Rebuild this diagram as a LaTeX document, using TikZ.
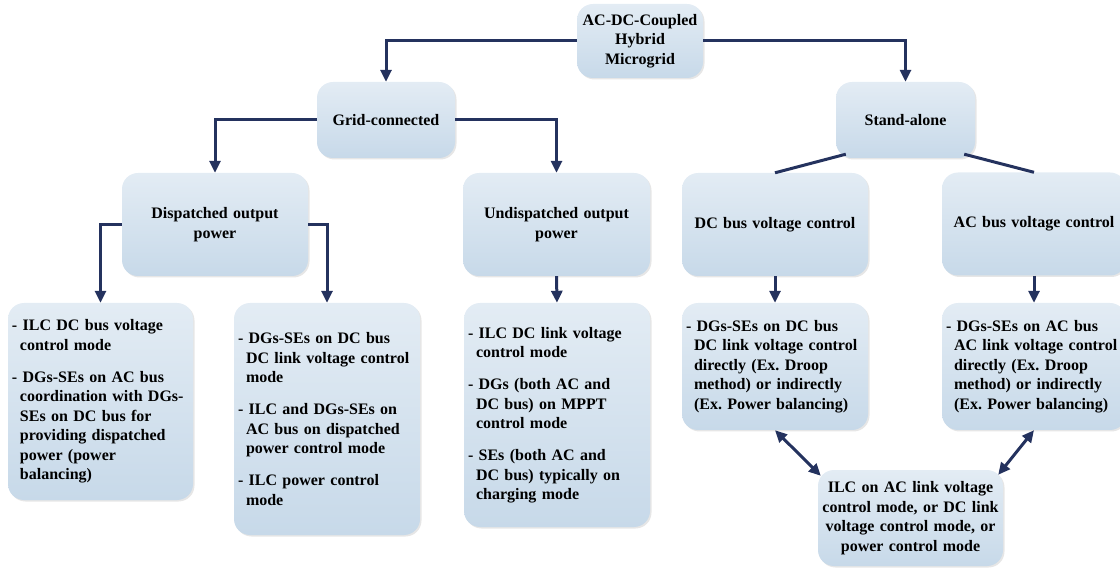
\documentclass[tikz,border=0pt]{standalone}
\usepackage{fontspec}
\setmainfont{Liberation Serif}
\usetikzlibrary{arrows.meta,shadows,calc}
\definecolor{ln}{RGB}{36,50,94}
\definecolor{btop}{RGB}{227,236,244}
\definecolor{bbot}{RGB}{199,217,233}
\newcommand{\ind}{\hfil\penalty-10000\hbox{}\kern8pt\relax}
\newcommand{\isep}{\par\vskip12.5pt\relax}
\frenchspacing
\tikzset{
 box/.style={rounded corners=16pt, top color=btop, bottom color=bbot, draw=none,
   drop shadow={opacity=0.2,shadow xshift=1.5pt,shadow yshift=-1.5pt},
   font=\bfseries\fontsize{16}{19.5}\selectfont\frenchspacing, inner xsep=4pt, inner ysep=0pt},
 cbox/.style={box, align=center},
 lbox/.style={box, align=left},
 arr/.style={draw=ln, line width=3pt, -{Triangle[width=11pt,length=12pt]}},
 plainln/.style={draw=ln, line width=3pt},
 darr/.style={draw=ln, line width=3pt, {Triangle[width=11pt,length=12pt]}-{Triangle[width=11pt,length=12pt]}},
}
\begin{document}
\begin{tikzpicture}[x=1pt,y=-1pt]
\useasboundingbox (0,0) rectangle (1120,569);
\node[cbox, minimum width=126pt, minimum height=74pt, text width=118pt] (root) at (640,41) {AC-DC-Coupled\\Hybrid\\Microgrid};
\node[cbox, minimum width=138pt, minimum height=76pt, text width=130pt] (grid) at (386,120) {Grid-connected};
\node[cbox, minimum width=139pt, minimum height=76pt, text width=131pt] (stand) at (905.5,120) {Stand-alone};
\node[cbox, minimum width=186pt, minimum height=103pt, text width=178pt] (disp) at (215,224.5) {Dispatched output\\power};
\node[cbox, minimum width=187pt, minimum height=103pt, text width=179pt] (undisp) at (556.5,224.5) {Undispatched output\\power};
\node[cbox, minimum width=186pt, minimum height=103pt, text width=178pt] (dcbus) at (775,224.5) {DC bus voltage control};
\node[cbox, minimum width=184pt, minimum height=103pt, text width=176pt] (acbus) at (1034,224) {AC bus voltage control};
\node[lbox, minimum width=185pt, minimum height=197pt, text width=177pt] (leaf1) at (100.5,401.5)
 {\parindent=0pt - ILC DC bus voltage\ind control mode\isep - DGs-SEs on AC bus\ind coordination with DGs-\ind SEs on DC bus for\ind providing dispatched\ind power (power\ind balancing)};
\node[lbox, minimum width=186pt, minimum height=232pt, text width=178pt] (leaf2) at (327,419)
 {\parindent=0pt - DGs-SEs on DC bus\ind DC link voltage control\ind mode\isep - ILC and DGs-SEs on\ind AC bus on dispatched\ind power control mode\isep - ILC power control\ind mode};
\node[lbox, minimum width=186pt, minimum height=224pt, text width=178pt] (leaf3) at (557,415)
 {\parindent=0pt - ILC DC link voltage\ind control mode\isep - DGs (both AC and\ind DC bus) on MPPT\ind control mode\isep - SEs (both AC and\ind DC bus) typically on\ind charging mode};
\node[lbox, minimum width=186pt, minimum height=127pt, text width=178pt] (leaf4) at (775,366.5)
 {\parindent=0pt - DGs-SEs on DC bus\ind DC link voltage control\ind directly (Ex. Droop\ind method) or indirectly\ind (Ex. Power balancing)};
\node[lbox, minimum width=184pt, minimum height=127pt, text width=176pt] (leaf5) at (1034,366.5)
 {\parindent=0pt - DGs-SEs on AC bus\ind AC link voltage control\ind directly (Ex. Droop\ind method) or indirectly\ind (Ex. Power balancing)};
\node[cbox, minimum width=185pt, minimum height=96pt, text width=177pt] (ilc) at (910.5,518)
 {ILC on AC link voltage\\control mode, or DC link\\voltage control mode, or\\power control mode};
\draw[arr] (root.west) -| (grid.north);
\draw[arr] (root.east) -| (stand.north);
\draw[arr] (grid.west) -| (disp.north);
\draw[arr] (grid.east) -| (undisp.north);
\draw[arr] (disp.west) -| (leaf1.north);
\draw[arr] (disp.east) -| (leaf2.north);
\draw[arr] (undisp.south) -- (leaf3.north);
\coordinate (sl) at ($(stand.south west)+(10,-4)$);
\coordinate (sr) at ($(stand.south east)+(-11,-4)$);
\draw[plainln] (sl) -- (dcbus.north);
\draw[plainln] (sr) -- (acbus.north);
\draw[arr] (dcbus.south) -- (leaf4.north);
\draw[arr] (acbus.south) -- (leaf5.north);
\coordinate (il) at ($(ilc.north west)+(3,6)$);
\coordinate (ir) at ($(ilc.north east)+(-5,5)$);
\draw[darr] (leaf4.south) -- (il);
\draw[darr] (leaf5.south) -- (ir);
\end{tikzpicture}
\end{document}
